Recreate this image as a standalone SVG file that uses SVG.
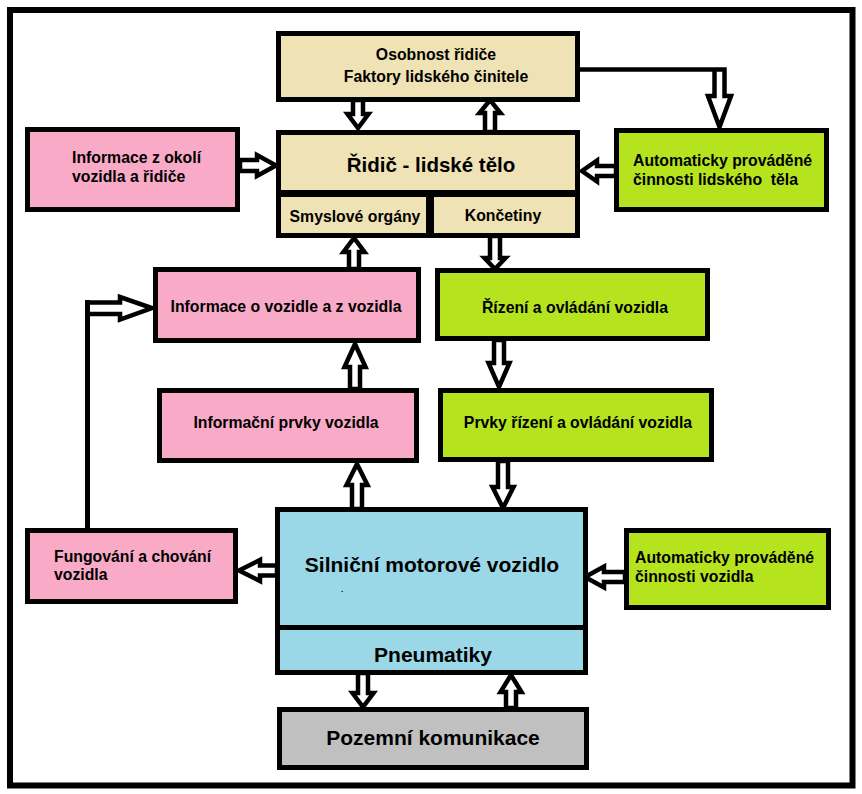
<svg xmlns="http://www.w3.org/2000/svg" width="862" height="794" viewBox="0 0 862 794">
<style>
.box{stroke:#000;stroke-width:5}
.tan{fill:#EFE2B4}
.pink{fill:#F9AAC7}
.green{fill:#B5E41E}
.blue{fill:#9AD8E8}
.gray{fill:#C0C0C0}
.arr{fill:#fff;stroke:#000;stroke-width:4.5;stroke-linejoin:miter}
.line{fill:none;stroke:#000;stroke-width:5}
text{font-family:"Liberation Sans",Arial,sans-serif;font-weight:bold;fill:#000;font-size:15.8px}
.c{text-anchor:middle}
.big{font-size:21px}
.rid{font-size:20.5px}
</style>
<rect x="0" y="0" width="862" height="794" fill="#fff"/>
<rect x="10" y="10" width="842.5" height="775.5" fill="none" stroke="#000" stroke-width="6"/>
<g id="connectors">
  <polygon class="arr" points="353,100 363,100 363,114 368.5,114 358,128 347.5,114 353,114"/>
  <polygon class="arr" points="485,132 495,132 495,113 500.5,113 490,100 479.5,113 485,113"/>
  <path class="arr" d="M580,69.5 H724.5 V96 H731 L719.5,127 L708,96 H714.5 V69.5"/>
  <polygon class="arr" points="240,160 257,160 257,155 276,165.5 257,176 257,171 240,171"/>
  <polygon class="arr" points="616,166 597,166 597,160.5 582,171 597,181.5 597,176 616,176"/>
  <polygon class="arr" points="349,269 359,269 359,252 364.5,252 354,238 343.5,252 349,252"/>
  <polygon class="arr" points="490,236 500,236 500,258 505.5,258 495,269 484.5,258 490,258"/>
  <polygon class="arr" points="350,389 360,389 360,367 365.5,367 355,344 344.5,367 350,367"/>
  <polygon class="arr" points="494,340 504,340 504,363 509.5,363 499,387 488.5,363 494,363"/>
  <polygon class="arr" points="352,509 362,509 362,485 367.5,485 357,464 346.5,485 352,485"/>
  <polygon class="arr" points="498,461 508,461 508,487 513.5,487 503,508 492.5,487 498,487"/>
  <polygon class="arr" points="277,565.5 260,565.5 260,560 239,570.5 260,581 260,575.5 277,575.5"/>
  <polygon class="arr" points="625,572 604,572 604,566.5 585,577 604,587.5 604,582 625,582"/>
  <polygon class="arr" points="358,673 368,673 368,693 373.5,693 363,707 352.5,693 358,693"/>
  <polygon class="arr" points="506,708 516,708 516,692 521.5,692 511,675 500.5,692 506,692"/>
  <polygon class="arr" points="87.5,302.5 120,302.5 120,297 152,308 120,319.5 120,314 87.5,314"/>
  <path class="line" d="M87.5,530 V300"/>
</g>
<g id="n-osobnost">
  <rect class="box tan" x="278.5" y="33.5" width="299" height="66"/>
  <text class="c" x="436" y="60">Osobnost řidiče</text>
  <text class="c" x="436" y="82">Faktory lidského činitele</text>
</g>
<g id="n-ridic">
  <rect class="box tan" x="278.5" y="132.5" width="299" height="60"/>
  <text class="c rid" x="431" y="172">Řidič - lidské tělo</text>
</g>
<g id="n-smysly">
  <rect class="box tan" x="278.5" y="194.5" width="150" height="41"/>
  <text class="c" x="355" y="222">Smyslové orgány</text>
</g>
<g id="n-koncetiny">
  <rect class="box tan" x="431.5" y="194.5" width="146" height="41"/>
  <text class="c" x="503" y="221">Končetiny</text>
</g>
<g id="n-okoli">
  <rect class="box pink" x="27.5" y="129.5" width="210" height="80"/>
  <text x="72" y="163">Informace z okolí</text>
  <text x="72" y="182">vozidla a řidiče</text>
</g>
<g id="n-auto-telo">
  <rect class="box green" x="616.5" y="130.5" width="210" height="79"/>
  <text x="633" y="166">Automaticky prováděné</text>
  <text x="633" y="185" style="white-space:pre">činnosti lidského  těla</text>
</g>
<g id="n-info-vozidlo">
  <rect class="box pink" x="155.5" y="269.5" width="263" height="71"/>
  <text class="c" x="286" y="312">Informace o vozidle a z vozidla</text>
</g>
<g id="n-info-prvky">
  <rect class="box pink" x="159.5" y="390.5" width="257" height="70"/>
  <text class="c" x="286" y="428">Informační prvky vozidla</text>
</g>
<g id="n-rizeni">
  <rect class="box green" x="437.5" y="270.5" width="270" height="68"/>
  <text class="c" x="575" y="313">Řízení a ovládání vozidla</text>
</g>
<g id="n-prvky-rizeni">
  <rect class="box green" x="440.5" y="390.5" width="271" height="69"/>
  <text class="c" x="578" y="428">Prvky řízení a ovládání vozidla</text>
</g>
<g id="n-vozidlo">
  <rect class="box blue" x="277.5" y="509.5" width="308" height="120"/>
  <text class="c big" x="432" y="572">Silniční motorové vozidlo</text>
  <text x="341" y="592" style="font-size:8px">.</text>
</g>
<g id="n-pneu">
  <rect class="box blue" x="277.5" y="627.5" width="308" height="45"/>
  <text class="c big" x="433" y="662">Pneumatiky</text>
</g>
<g id="n-pozemni">
  <rect class="box gray" x="279.5" y="709.5" width="307" height="58"/>
  <text class="c big" x="433" y="745">Pozemní komunikace</text>
</g>
<g id="n-fungovani">
  <rect class="box pink" x="27.5" y="530.5" width="208" height="71"/>
  <text x="54" y="562">Fungování a chování</text>
  <text x="54" y="580">vozidla</text>
</g>
<g id="n-auto-vozidlo">
  <rect class="box green" x="626.5" y="530.5" width="202" height="77"/>
  <text x="635" y="563">Automaticky prováděné</text>
  <text x="635" y="582">činnosti vozidla</text>
</g>
</svg>
